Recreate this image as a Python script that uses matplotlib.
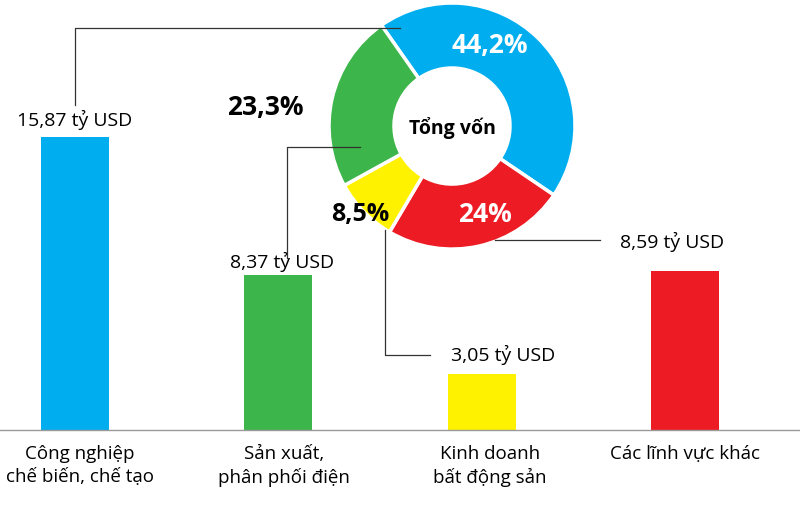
import matplotlib
matplotlib.use("Agg")
import matplotlib.pyplot as plt

categories = ["Công nghiệp\nchế biến, chế tạo", "Sản xuất,\nphân phối điện",
              "Kinh doanh\nbất động sản", "Các lĩnh vực khác"]
values = [15.87, 8.37, 3.05, 8.59]
value_labels = ["15,87 tỷ USD", "8,37 tỷ USD", "3,05 tỷ USD", "8,59 tỷ USD"]
shares = [44.2, 24, 8.5, 23.3]
share_labels = ["44,2%", "24%", "8,5%", "23,3%"]
colors = ["#00AEEF", "#ED1C24", "#FFF200", "#3CB54A"]
bar_colors = ["#00AEEF", "#3CB54A", "#FFF200", "#ED1C24"]

plt.rcParams["font.family"] = "Open Sans"
W, H = 800, 512
fig = plt.figure(figsize=(8, 5.12), dpi=100)

sp = 203.3
ax = fig.add_axes([0, 82 / H, 1, 1 - 82 / H])
ax.set_xlim(-75 / sp, 3 + 115 / sp)
ax.set_ylim(0, 430 / 18.46)
ax.bar(range(4), values, width=68 / sp, color=bar_colors)
ax.axis("off")

ov = fig.add_axes([0, 0, 1, 1])
ov.patch.set_alpha(0)
Y = lambda y: H - y

ov.plot([0, W], [Y(430), Y(430)], color="#999999", lw=1)
cx = [80, 284, 490, 685]
for x, c in zip(cx, categories):
    ov.text(x, Y(445), c, ha="center", va="top", fontsize=13.5, linespacing=1.35)

wedges, _ = ov.pie(shares, colors=colors, startangle=125, counterclock=False,
                   center=(452, Y(126)), radius=123, explode=[0, 0.07, 0, 0],
                   wedgeprops=dict(width=65, edgecolor="white", linewidth=2.5),
                   frame=True)
ov.set_xlim(0, W); ov.set_ylim(0, H); ov.set_aspect("auto"); ov.axis("off")
ov.text(452, Y(128), "Tổng vốn", ha="center", va="center", fontsize=14, fontweight="bold")
ov.text(490, Y(45), share_labels[0], ha="center", va="center", fontsize=19, fontweight="bold", color="white")
ov.text(485, Y(215), share_labels[1], ha="center", va="center", fontsize=19, fontweight="bold", color="white")
ov.text(360, Y(215), share_labels[2], ha="center", va="center", fontsize=18, fontweight="bold")
ov.text(265, Y(108), share_labels[3], ha="center", va="center", fontsize=19, fontweight="bold")

lc = dict(color="#333333", lw=0.9)
ov.plot([75, 75, 400], [Y(105), Y(28), Y(28)], **lc)
ov.plot([287, 287, 360], [Y(258), Y(147), Y(147)], **lc)
ov.plot([385, 385, 430], [Y(230), Y(355), Y(355)], **lc)
ov.plot([495, 600], [Y(240), Y(240)], **lc)

ov.text(75, Y(120), value_labels[0], ha="center", va="center", fontsize=14)
ov.text(282, Y(262), value_labels[1], ha="center", va="center", fontsize=14)
ov.text(503, Y(355), value_labels[2], ha="center", va="center", fontsize=14)
ov.text(672, Y(242), value_labels[3], ha="center", va="center", fontsize=14)

fig.savefig("out.png", dpi=100)
